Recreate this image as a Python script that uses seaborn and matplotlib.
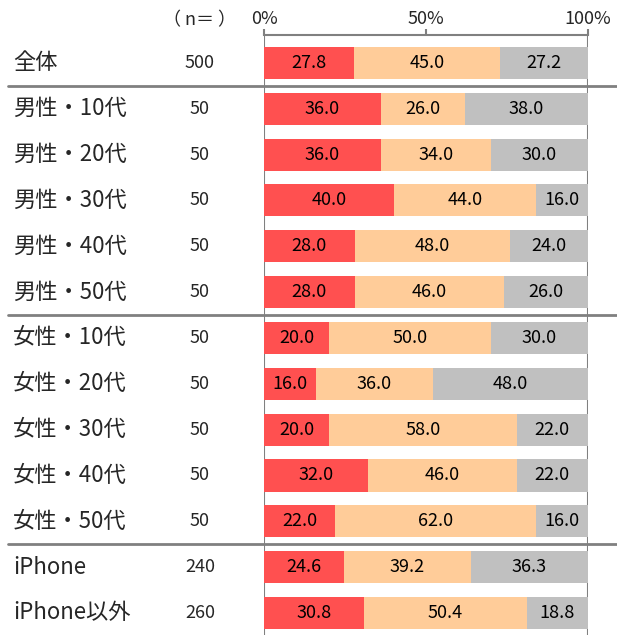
import numpy as np
import pandas as pd
import matplotlib.pyplot as plt
import seaborn as sns

# data
groups = ["全体", "男性・10代", "男性・20代", "男性・30代", "男性・40代", "男性・50代",
          "女性・10代", "女性・20代", "女性・30代", "女性・40代", "女性・50代",
          "iPhone", "iPhone以外"]
n_values = [500, 50, 50, 50, 50, 50, 50, 50, 50, 50, 50, 240, 260]
seg1 = [27.8, 36.0, 36.0, 40.0, 28.0, 28.0, 20.0, 16.0, 20.0, 32.0, 22.0, 24.6, 30.8]
seg2 = [45.0, 26.0, 34.0, 44.0, 48.0, 46.0, 50.0, 36.0, 58.0, 46.0, 62.0, 39.2, 50.4]
seg3 = [27.2, 38.0, 30.0, 16.0, 24.0, 26.0, 30.0, 48.0, 22.0, 22.0, 16.0, 36.3, 18.8]
colors = ["#FF5050", "#FFCC99", "#C0C0C0"]

sns.set_style("white")
plt.rcParams["font.family"] = ["Noto Sans CJK JP", "DejaVu Sans"]

df = pd.DataFrame({"group": groups, "n": n_values, "s1": seg1, "s2": seg2, "s3": seg3})
df["c1"] = df["s1"]
df["c2"] = df["s1"] + df["s2"]
df["c3"] = df["c2"] + df["s3"]

fig = plt.figure(figsize=(6.17, 6.35), dpi=100)
ax = fig.add_axes([0.428, 0.0, 0.525, 0.945])

# stacked bars: draw cumulative totals back to front
for col, c in zip(["c3", "c2", "c1"], colors[::-1]):
    sns.barplot(data=df, x=col, y="group", orient="h", color=c, width=0.7,
                saturation=1, ax=ax, linewidth=0)

# value labels in each segment
for i, row in df.iterrows():
    starts = [0, row["c1"], row["c2"]]
    for s, v in zip(starts, [row["s1"], row["s2"], row["s3"]]):
        ax.text(s + v / 2, i, f"{v:.1f}", ha="center", va="center", fontsize=13, color="black")
    ax.text(-0.198, i, f"{row['n']}", transform=ax.get_yaxis_transform(),
            ha="center", va="center", fontsize=13)
    ax.text(-0.775, i, row["group"], transform=ax.get_yaxis_transform(),
            ha="left", va="center", fontsize=16)

ax.text(-0.198, 1.024, "（ n＝ ）", transform=ax.transAxes, ha="center", va="center", fontsize=13)

ax.set_xlim(0, 100)
ax.set_ylim(12.48, -0.61)
ax.set_xlabel("")
ax.set_ylabel("")
ax.set_yticks([])
ax.xaxis.tick_top()
ax.set_xticks([0, 50, 100])
ax.set_xticklabels(["0%", "50%", "100%"], fontsize=13)
ax.tick_params(axis="x", direction="out", length=4, width=1.5, color="#808080", pad=1)

for side in ["left", "right", "bottom"]:
    ax.spines[side].set_visible(False)
ax.spines["top"].set_color("#808080")
ax.spines["top"].set_linewidth(1.5)

# vertical lines at 0% and 100%
for xv in [0, 100]:
    ax.axvline(xv, color="#808080", lw=1.5, zorder=0.5)

# group separators
for yv in [0.5, 5.5, 10.5]:
    ax.axhline(yv, xmin=-0.79, xmax=1.1, color="#808080", lw=2, clip_on=False)

fig.savefig("out.png", dpi=100)
